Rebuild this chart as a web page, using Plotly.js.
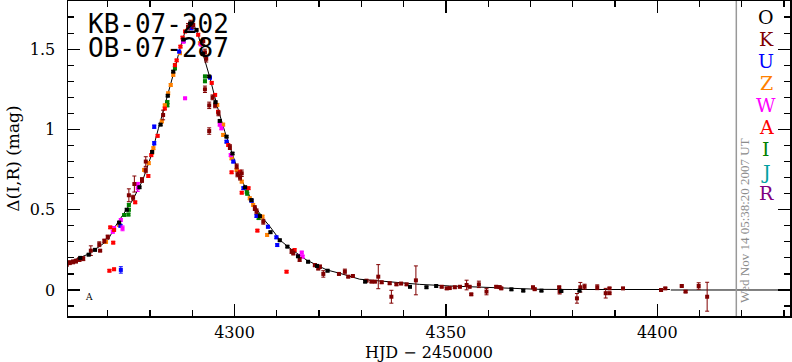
<!DOCTYPE html>
<html>
<head>
<meta charset="utf-8">
<script src="https://cdn.plot.ly/plotly-3.0.1.min.js"></script>
<style>html,body{margin:0;padding:0;background:#fff;}#chart{width:792px;height:362px;}</style>
</head>
<body>
<div id="chart"></div>
<script>
// ---- model curve ----
const modelX = [4260.1,4262,4264.9,4268.0,4270,4272.0,4273.9,4275.9,4278.3,4280.2,4282.0,4283.1,4284.7,4285.9,4287.1,4288.3,4289.3,4290.3,4291.4,4292.6,4294.2,4295.8,4297.7,4299.3,4301.3,4304.0,4306.4,4308.4,4310.7,4313.1,4317.0,4321.8,4324.9,4329.6,4336.7,4343.8,4350.9,4358,4365.1,4372.2,4380,4390,4398,4403.0];
const modelY = [0.166,0.185,0.218,0.27,0.31,0.405,0.478,0.56,0.685,0.83,1.007,1.11,1.257,1.38,1.506,1.61,1.65,1.655,1.59,1.464,1.32,1.153,0.986,0.862,0.706,0.56,0.457,0.394,0.312,0.26,0.187,0.125,0.104,0.067,0.052,0.035,0.025,0.017,0.01,0.004,0.003,0.003,0.003,0.003];
const zeroX = [4403.2, 4432];
const zeroY = [0, 0];

// ---- observatory data ----
const obsLetters = ['O','K','U','Z','W','A','I','J','R'];
const obsColors  = ['#000000','#800000','#0000ff','#ff8000','#ff00ff','#ff0000','#008000','#00a0a0','#800080'];

const oX = [4263.5,4265.5,4267,4272.7,4274.5,4277.5,4280.5,4282.5,4284.2,4285.5,4287.9,4289.5,4291,4292.5,4294.0,4295.5,4296.5,4298.1,4299.5,4302.5,4304,4306,4308.5,4310.7,4312.5,4315,4317.4,4319.5,4322,4330.9,4341.5,4345.4,4347.7,4365.5,4368.3,4372.6,4377.3,4381.6];
const oY = [0.2,0.22,0.25,0.42,0.5,0.64,0.86,1.03,1.21,1.36,1.56,1.66,1.62,1.47,1.33,1.17,1.053,0.955,0.85,0.64,0.56,0.46,0.36,0.31,0.27,0.21,0.176,0.15,0.12,0.052,0.02,0.017,0.025,0.004,-0.004,-0.004,-0.006,-0.004];
const oE = oX.map(()=>0.006);

const kX = [4260.3,4261.0,4261.8,4262.5,4263.3,4264.2,4266.0,4268.2,4268.0,4269.2,4270.0,4275.0,4276.3,4276.0,4278.1,4279.0,4279.0,4283.1,4289.0,4289.6,4290.2,4292.6,4293.0,4293.3,4293.0,4294.0,4294.0,4294.8,4295.4,4296.2,4298.9,4300.5,4300.7,4301.3,4301.7,4304.8,4305.2,4306.8,4313.5,4313.9,4315.4,4319.0,4319.8,4320.2,4321.0,4324.7,4326.1,4326.9,4328.0,4331.2,4332.4,4333.2,4334.0,4334.8,4336.7,4337.1,4338.3,4339.4,4340.7,4342.9,4349.0,4350.2,4350.9,4352.1,4353.3,4354.9,4355.6,4356.0,4357.8,4359.6,4361.9,4362.7,4363.1,4370.6,4371.0,4376.8,4376.9,4381.0,4381.8,4382.8,4385.8,4387.8,4388.7,4388.7,4391.9,4400.9,4401.9,4405.8,4406.7,4409.8,4411.8];
const kY = [0.16,0.17,0.175,0.18,0.19,0.195,0.245,0.245,0.285,0.305,0.33,0.59,0.66,0.575,0.685,0.745,0.80,1.09,1.64,1.66,1.65,1.55,1.48,1.44,1.25,1.15,0.99,1.2,1.15,1.1,0.89,0.77,0.72,0.70,0.727,0.51,0.49,0.425,0.24,0.23,0.19,0.155,0.135,0.145,0.10,0.10,0.115,0.083,0.087,0.058,0.052,0.052,0.083,0.048,0.042,-0.042,0.035,0.04,0.035,0.06,0.02,0.01,0.012,0.017,0.02,0.031,0.02,-0.027,0.035,-0.01,0.02,0.018,0.01,0.017,0.005,0.017,-0.01,-0.052,0.017,0.021,0.017,-0.02,0.01,-0.02,0.01,0.0,0.01,0.025,-0.01,0.025,-0.042];
const kE = [0.012,0.012,0.012,0.012,0.012,0.012,0.03,0.006,0.015,0.012,0.012,0.04,0.05,0.015,0.015,0.015,0.03,0.03,0.02,0.02,0.02,0.02,0.02,0.02,0.02,0.02,0.02,0.015,0.015,0.015,0.015,0.015,0.015,0.015,0.02,0.015,0.015,0.015,0.012,0.012,0.012,0.01,0.01,0.01,0.02,0.006,0.015,0.006,0.006,0.006,0.006,0.006,0.075,0.006,0.006,0.04,0.006,0.006,0.006,0.09,0.006,0.006,0.006,0.006,0.006,0.03,0.006,0.006,0.02,0.02,0.006,0.006,0.006,0.006,0.006,0.006,0.015,0.03,0.03,0.015,0.015,0.03,0.006,0.006,0.006,0.006,0.006,0.006,0.006,0.02,0.09];

const uX = [4273.1,4273.0,4281.0,4281.0,4286.9,4287.9,4289.8,4294.2,4298.1,4299.7,4302.1,4304.0,4305.2,4307.9,4309.9,4310.1];
const uY = [0.125,0.40,1.017,0.914,1.485,1.55,1.63,1.323,0.924,0.80,0.634,0.556,0.461,0.394,0.328,0.28];
const uE = [0.02,0.008,0.01,0.01,0.008,0.008,0.008,0.008,0.008,0.008,0.008,0.008,0.008,0.008,0.008,0.008];

const zX = [4269.6,4272.7,4278.6,4279.7,4280.5,4280.8,4282.8,4283.5,4284.3,4284.9,4285.5,4287.1,4291.8,4295.9,4297.3,4297.3,4299.3,4300.5,4301.7,4303.6,4304.4,4306.6,4307.7];
const zY = [0.30,0.405,0.748,0.79,0.855,0.883,1.05,1.15,1.225,1.277,1.34,1.475,1.537,1.153,1.03,0.966,0.82,0.748,0.675,0.571,0.53,0.457,0.343];
const zE = zX.map(()=>0.008);

const wX = [4271.2,4271.5,4273.1,4273.5,4277.1,4277.1,4288.3,4287.9,4292.0,4296.5,4296.9,4299.1,4315.1,4315.9,4316.1];
const wY = [0.363,0.385,0.436,0.384,0.634,0.66,1.194,1.547,1.53,1.03,1.007,0.84,0.212,0.233,0.208];
const wE = [0.008,0.01,0.008,0.015,0.02,0.01,0.006,0.008,0.008,0.008,0.008,0.008,0.008,0.008,0.008];

const aX = [4270.4,4271.5,4271.3,4270.6,4271.5,4276.5,4279.6,4280.3,4281.8,4283.5,4285.9,4286.3,4287.2,4287.7,4288.3,4290.2,4291.4,4294.6,4295.4,4296.1,4298.5,4299.3,4301.3,4301.7,4303.3,4305.4,4312.3,4314.2];
const aY = [0.12,0.129,0.295,0.39,0.374,0.546,0.71,0.84,0.96,1.13,1.40,1.43,1.516,1.572,1.61,1.65,1.59,1.29,1.215,1.11,0.903,0.733,0.737,0.606,0.634,0.37,0.114,0.249];
const aE = aX.map(()=>0.007);

const iX = [4273.9,4274.9,4275.0,4275.0,4284.1,4284.1,4285.9,4285.9,4293.0,4293.0,4302.9,4303.0,4305.6,4305.7];
const iY = [0.467,0.47,0.50,0.53,1.15,1.17,1.38,1.40,1.30,1.33,0.612,0.60,0.467,0.448];
const iE = iX.map(()=>0.008);

const markX = [4265.6];
const markY = [-0.048];

const eventNames = ['KB-07-202','OB-07-287'];
const dateStamp = 'Wed Nov 14 05:38:20 2007 UT';
const dateLineX = 4418.7;
const xRange = [4260.6, 4431.4];
const yRange = [-0.162, 1.80];

// ---- build ----
function series(x, y, e, color) {
  return {
    x: x, y: y, type: 'scatter', mode: 'markers', showlegend: false, hoverinfo: 'skip',
    marker: {symbol: 'square', size: 4, color: color, line: {width: 0}},
    error_y: {type: 'data', array: e, visible: true, color: color, thickness: 1, width: 2}
  };
}
const traces = [
  {x: modelX, y: modelY, type: 'scatter', mode: 'lines', line: {color: '#000', width: 1}, showlegend: false, hoverinfo: 'skip'},
  {x: zeroX, y: zeroY, type: 'scatter', mode: 'lines', line: {color: '#000', width: 1}, showlegend: false, hoverinfo: 'skip'},
  series(iX, iY, iE, obsColors[6]),
  series(zX, zY, zE, obsColors[3]),
  series(uX, uY, uE, obsColors[2]),
  series(wX, wY, wE, obsColors[4]),
  series(aX, aY, aE, obsColors[5]),
  series(kX, kY, kE, obsColors[1]),
  series(oX, oY, oE, obsColors[0]),
  {x: markX, y: markY, type: 'scatter', mode: 'text', text: ['A'], textfont: {family: 'DejaVu Serif', size: 9, color: '#000'}, showlegend: false, hoverinfo: 'skip'}
];

const PL = 68, PR = 790, PT = 1, PB = 316;
const pw = PR - PL, ph = PB - PT;
const px = v => (v - PL) / pw;
const py = v => (PB - v) / ph;

const annotations = [];
annotations.push({text: eventNames[0], xref: 'paper', yref: 'paper', x: px(86), y: py(24), xanchor: 'left', yanchor: 'middle', showarrow: false, font: {family: 'DejaVu Sans Mono', size: 26, color: '#000'}});
annotations.push({text: eventNames[1], xref: 'paper', yref: 'paper', x: px(86), y: py(48), xanchor: 'left', yanchor: 'middle', showarrow: false, font: {family: 'DejaVu Sans Mono', size: 26, color: '#000'}});
const legendYs = [17, 39, 61, 83, 105, 127, 149, 172, 193];
obsLetters.forEach((L, i) => {
  annotations.push({text: L, xref: 'paper', yref: 'paper', x: px(766), y: py(legendYs[i]), xanchor: 'center', yanchor: 'middle', showarrow: false, font: {family: 'DejaVu Serif', size: 19, color: obsColors[i]}});
});
annotations.push({text: dateStamp, xref: 'paper', yref: 'paper', x: px(744), y: py(221), textangle: -90, xanchor: 'center', yanchor: 'middle', showarrow: false, font: {family: 'Liberation Serif', size: 13, color: '#8c8c8c'}});

const axisFont = {family: 'DejaVu Serif', size: 16, color: '#000'};
const tickCommon = {ticks: 'inside', ticklen: 12, tickwidth: 1.2, tickcolor: '#000', showgrid: false, zeroline: false,
  showline: true, linecolor: '#000', linewidth: 1.5, mirror: 'allticks'};
const layout = {
  width: 792, height: 362,
  margin: {l: PL, r: 792 - PR, t: PT, b: 362 - PB, pad: 0},
  paper_bgcolor: '#fff', plot_bgcolor: '#fff',
  xaxis: Object.assign({}, tickCommon, {
    range: xRange, tick0: 4300, dtick: 50,
    minor: {dtick: 10, tick0: 4300, ticks: 'inside', ticklen: 6, tickwidth: 1.2, tickcolor: '#000', showgrid: false},
    tickfont: axisFont, ticklabelstandoff: 1,
    title: {text: 'HJD − 2450000', font: axisFont, standoff: 6}
  }),
  yaxis: Object.assign({}, tickCommon, {
    range: yRange, tick0: 0, dtick: 0.5,
    minor: {dtick: 0.1, tick0: 0, ticks: 'inside', ticklen: 6, tickwidth: 1.2, tickcolor: '#000', showgrid: false},
    tickfont: axisFont, ticklabelstandoff: 8,
    title: {text: 'Δ(I,R) (mag)', font: {family: 'DejaVu Serif', size: 17, color: '#000'}, standoff: 6}
  }),
  shapes: [{type: 'line', xref: 'x', yref: 'paper', x0: dateLineX, x1: dateLineX, y0: 0, y1: 1, line: {color: '#999999', width: 1.5}}],
  annotations: annotations
};
Plotly.newPlot('chart', traces, layout, {displayModeBar: false, staticPlot: true});
</script>
</body>
</html>
